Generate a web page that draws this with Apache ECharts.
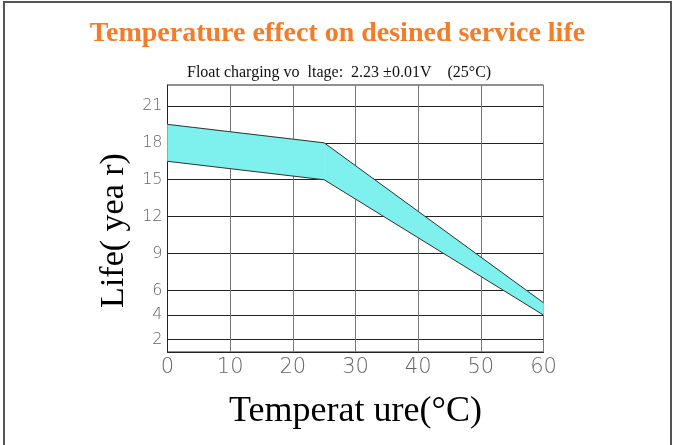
<!DOCTYPE html>
<html>
<head>
<meta charset="utf-8">
<script src="https://cdn.jsdelivr.net/npm/echarts@6/dist/echarts.min.js"></script>
<style>
  html, body { margin: 0; padding: 0; background: #fff; }
  #chart { width: 675px; height: 445px; }
</style>
</head>
<body>
<div id="chart"></div>
<script>
// temperature (°C) at the band's corners
const temps = [0, 25, 60];
// life in years, top and bottom edge of the band
const lifeUpper = [19.5, 18, 5];
const lifeLower = [16.5, 15, 4];
// tick labels on the life axis
const lifeTicks = [2, 4, 6, 9, 12, 15, 18, 21];

const labelFont = 'DejaVu Sans';
const edgeStyle = { color: '#333', width: 1 };

// one filled quad per segment of the band
function renderBand(params, api) {
  const i = params.dataIndex;
  if (i >= temps.length - 1) return null;
  const pts = [
    api.coord([temps[i], lifeUpper[i]]),
    api.coord([temps[i + 1], lifeUpper[i + 1]]),
    api.coord([temps[i + 1], lifeLower[i + 1]]),
    api.coord([temps[i], lifeLower[i]])
  ];
  return {
    type: 'polygon',
    shape: { points: pts },
    style: { fill: '#7ef0ee', stroke: '#7ef0ee', lineWidth: 0.5 }
  };
}

const chart = echarts.init(document.getElementById('chart'));
chart.setOption({
  animation: false,
  graphic: [
    {
      type: 'rect',
      shape: { x: 4, y: 2, width: 667, height: 460 },
      style: { fill: 'none', stroke: '#555', lineWidth: 2 },
      silent: true
    }
  ],
  title: [
    {
      text: 'Temperature effect on desined service life',
      left: 'center',
      top: 15,
      textStyle: {
        fontFamily: 'Liberation Serif',
        fontWeight: 'bold',
        fontSize: 28,
        color: '#f47b28'
      }
    },
    {
      text: 'Float charging vo  ltage:  2.23 \u00b10.01V    (25\u00b0C)',
      left: 182,
      top: 60,
      textStyle: {
        fontFamily: 'Liberation Serif',
        fontWeight: 'normal',
        fontSize: 16,
        color: '#111'
      }
    }
  ],
  grid: {
    left: 167.5,
    right: 131.5,
    top: 85,
    bottom: 93,
    show: true,
    borderColor: '#222',
    borderWidth: 1
  },
  xAxis: {
    type: 'value',
    min: 0,
    max: 60,
    interval: 10,
    name: 'Temperat ure(\u00b0C)',
    nameLocation: 'middle',
    nameGap: 42,
    nameTextStyle: {
      fontFamily: 'Liberation Serif',
      fontSize: 36,
      color: '#000'
    },
    axisLine: { lineStyle: { color: '#222', width: 1 } },
    axisTick: { show: false },
    axisLabel: {
      margin: 5,
      fontFamily: labelFont,
      fontWeight: 200,
      fontSize: 21,
      color: '#666'
    },
    splitLine: { show: true, lineStyle: { color: '#777', width: 1 } }
  },
  yAxis: {
    type: 'value',
    min: 1,
    max: 22.7,
    name: 'Life( yea r)',
    nameLocation: 'middle',
    nameGap: 32,
    nameTextStyle: {
      fontFamily: 'Liberation Serif',
      fontSize: 34,
      color: '#000',
      padding: [0, 24, 0, 0]
    },
    axisLine: { show: true, lineStyle: { color: '#222', width: 1 } },
    axisTick: { show: false, customValues: lifeTicks },
    axisLabel: {
      customValues: lifeTicks,
      margin: 5,
      fontFamily: labelFont,
      fontWeight: 200,
      fontSize: 16,
      color: '#666'
    },
    splitLine: { show: true, lineStyle: { color: '#222', width: 1 } }
  },
  series: [
    {
      type: 'custom',
      renderItem: renderBand,
      data: temps.map((t, i) => [t, lifeLower[i], lifeUpper[i]]),
      encode: { x: 0, y: [1, 2] },
      clip: true,
      z: 2
    },
    {
      type: 'line',
      symbol: 'none',
      data: temps.map((t, i) => [t, lifeUpper[i]]),
      lineStyle: edgeStyle,
      z: 3
    },
    {
      type: 'line',
      symbol: 'none',
      data: temps.map((t, i) => [t, lifeLower[i]]),
      lineStyle: edgeStyle,
      z: 3
    }
  ]
});
</script>
</body>
</html>
